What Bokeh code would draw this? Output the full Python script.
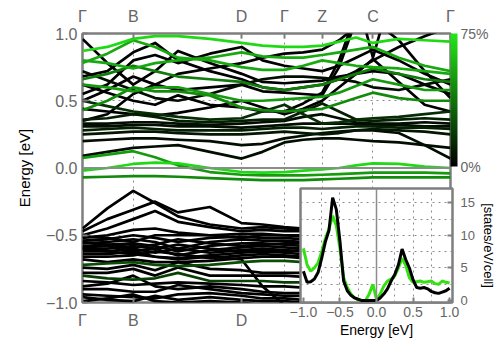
from bokeh.plotting import figure
from bokeh.models import (ColumnDataSource, FixedTicker, LinearColorMapper, ColorBar,
                          Span, LinearAxis, PrintfTickFormatter, CustomJSTickFormatter)
from bokeh.transform import transform
from bokeh.layouts import column
from bokeh.embed import file_html
from bokeh.resources import INLINE

# ---------------- data ----------------
k_path = [0, 25, 51, 73, 96, 128, 160, 181, 203, 222, 241, 258, 275, 292, 318, 344, 370]
k_ticks = [0, 51, 160, 203, 241, 292, 370]
k_labels = ["Γ", "B", "D", "Γ", "Z", "C", "Γ"]
k_bottom_ticks = [0, 51, 160]
k_bottom_labels = ["Γ", "B", "D"]
k_lines = [51, 160, 203, 241, 292]

cond_bands = [
    [-0.02, 0.0, 0.03, 0.04, 0.035, 0.0, -0.03, -0.035, -0.03, -0.02, -0.01, 0.0, 0.02, 0.035, 0.03, 0.01, 0.0],
    [0.075, 0.1, 0.125, 0.08, 0.02, -0.03, -0.05, -0.055, -0.055, -0.055, -0.05, -0.045, -0.04, -0.035, -0.035, -0.035, -0.04],
    [-0.07, -0.065, -0.06, -0.06, -0.065, -0.075, -0.085, -0.09, -0.09, -0.09, -0.085, -0.08, -0.075, -0.07, -0.07, -0.07, -0.07],
    [0.09, 0.12, 0.15, 0.16, 0.17, 0.12, 0.07, 0.12, 0.19, 0.21, 0.22, 0.22, 0.21, 0.2, 0.19, 0.17, 0.15],
    [0.2, 0.21, 0.22, 0.22, 0.21, 0.2, 0.17, 0.18, 0.22, 0.24, 0.26, 0.27, 0.28, 0.28, 0.26, 0.17, 0.07],
    [0.25, 0.26, 0.27, 0.27, 0.26, 0.25, 0.25, 0.26, 0.27, 0.26, 0.25, 0.26, 0.28, 0.29, 0.28, 0.27, 0.25],
    [0.28, 0.29, 0.3, 0.29, 0.28, 0.28, 0.28, 0.29, 0.3, 0.3, 0.29, 0.3, 0.31, 0.31, 0.3, 0.3, 0.29],
    [0.31, 0.31, 0.32, 0.32, 0.31, 0.31, 0.3, 0.31, 0.32, 0.33, 0.33, 0.33, 0.33, 0.32, 0.32, 0.31, 0.31],
    [0.33, 0.33, 0.34, 0.34, 0.33, 0.32, 0.33, 0.34, 0.35, 0.38, 0.4, 0.37, 0.34, 0.33, 0.33, 0.34, 0.33],
    [0.36, 0.37, 0.4, 0.38, 0.35, 0.34, 0.35, 0.36, 0.36, 0.42, 0.48, 0.42, 0.36, 0.35, 0.36, 0.37, 0.36],
    [0.5, 0.46, 0.42, 0.4, 0.38, 0.36, 0.37, 0.42, 0.47, 0.4, 0.33, 0.34, 0.36, 0.37, 0.38, 0.4, 0.42],
    [0.44, 0.42, 0.4, 0.39, 0.41, 0.45, 0.5, 0.45, 0.4, 0.44, 0.5, 0.6, 0.7, 0.81, 0.64, 0.47, 0.42],
    [1.1, 1.1, 1.05, 1.08, 1.1, 1.1, 1.05, 1.04, 1.03, 1.04, 1.06, 1.2, 1.3, 0.82, 1.5, 1.5, 1.5],
    [0.62, 0.56, 0.5, 0.47, 0.54, 0.47, 0.45, 0.42, 0.42, 0.48, 0.56, 0.8, 1.15, 1.3, 1.3, 1.3, 1.3],
    [0.5, 0.58, 0.68, 0.62, 0.58, 0.6, 0.62, 0.57, 0.56, 0.55, 0.54, 0.75, 1.1, 1.3, 1.3, 1.3, 1.3],
    [0.96, 0.78, 0.62, 0.72, 0.87, 0.78, 0.7, 0.64, 0.63, 0.64, 0.65, 0.68, 0.7, 0.72, 0.7, 0.62, 0.55],
    [0.87, 0.9, 0.96, 0.98, 0.98, 0.96, 0.93, 0.91, 0.9, 0.9, 0.91, 0.94, 0.97, 0.93, 0.96, 0.95, 0.94],
    [0.78, 0.85, 0.95, 0.9, 0.82, 0.8, 0.75, 0.73, 0.73, 0.76, 0.8, 0.78, 0.76, 0.75, 0.74, 0.72, 0.7],
    [0.68, 0.72, 0.86, 0.93, 0.8, 0.72, 0.66, 0.6, 0.58, 0.6, 0.62, 0.66, 0.72, 0.8, 0.9, 0.98, 1.05],
    [0.62, 0.6, 0.57, 0.6, 0.6, 0.55, 0.5, 0.5, 0.51, 0.52, 0.53, 0.56, 0.61, 0.66, 0.62, 0.58, 0.58],
    [0.43, 0.5, 0.6, 0.57, 0.57, 0.54, 0.45, 0.43, 0.42, 0.43, 0.44, 0.48, 0.52, 0.56, 0.52, 0.5, 0.5],
    [0.8, 0.78, 0.74, 0.78, 0.8, 0.82, 0.86, 0.83, 0.82, 0.82, 0.84, 0.86, 0.88, 0.9, 0.82, 0.76, 0.72],
    [0.35, 0.4, 0.55, 0.62, 0.7, 0.74, 0.78, 0.82, 0.85, 0.86, 0.88, 0.95, 1.05, 1.1, 0.95, 0.72, 0.52],
    [0.72, 0.65, 0.58, 0.52, 0.5, 0.55, 0.62, 0.66, 0.68, 0.68, 0.67, 0.66, 0.64, 0.6, 0.58, 0.62, 0.66],
    [0.55, 0.62, 0.8, 0.84, 0.78, 0.85, 0.9, 0.8, 0.76, 0.74, 0.72, 0.76, 0.82, 0.88, 0.8, 0.7, 0.62],
    [0.66, 0.7, 0.76, 0.72, 0.68, 0.66, 0.64, 0.6, 0.58, 0.6, 0.62, 0.66, 0.7, 0.74, 0.7, 0.66, 0.64],
]
cond_weights = [70, 50, 45, 5, 5, 8, 10, 5, 5, 10, 15, 0, 0, 0, 0, 0, 70, 55, 0, 50, 45, 55, 0, 5, 0, 40]

val_k = k_path[:10]
val_bands = [
    [-0.45, -0.3, -0.17, -0.26, -0.36, -0.42, -0.45, -0.44, -0.45, -0.46],
    [-0.47, -0.38, -0.31, -0.25, -0.33, -0.29, -0.41, -0.42, -0.44, -0.45],
    [-0.5, -0.45, -0.38, -0.32, -0.4, -0.44, -0.47, -0.46, -0.47, -0.47],
    [-0.52, -0.5, -0.46, -0.45, -0.48, -0.5, -0.49, -0.49, -0.5, -0.5],
    [-0.51, -0.52, -0.55, -0.5, -0.5, -0.5, -0.52, -0.5, -0.5, -0.51],
    [-0.54, -0.53, -0.5, -0.52, -0.55, -0.52, -0.51, -0.52, -0.52, -0.53],
    [-0.55, -0.57, -0.59, -0.57, -0.53, -0.56, -0.58, -0.57, -0.56, -0.56],
    [-0.56, -0.55, -0.53, -0.55, -0.6, -0.55, -0.53, -0.54, -0.54, -0.55],
    [-0.58, -0.57, -0.56, -0.58, -0.62, -0.58, -0.56, -0.56, -0.57, -0.58],
    [-0.59, -0.58, -0.62, -0.6, -0.57, -0.6, -0.62, -0.62, -0.62, -0.61],
    [-0.6, -0.6, -0.58, -0.6, -0.65, -0.61, -0.59, -0.58, -0.59, -0.6],
    [-0.62, -0.62, -0.6, -0.63, -0.6, -0.63, -0.61, -0.6, -0.61, -0.62],
    [-0.64, -0.64, -0.62, -0.66, -0.67, -0.65, -0.63, -0.62, -0.63, -0.64],
    [-0.66, -0.66, -0.65, -0.62, -0.64, -0.67, -0.65, -0.64, -0.65, -0.66],
    [-0.68, -0.7, -0.68, -0.7, -0.7, -0.69, -0.67, -0.66, -0.66, -0.67],
    [-0.72, -0.71, -0.7, -0.72, -0.73, -0.72, -0.7, -0.69, -0.69, -0.7],
    [-0.74, -0.75, -0.72, -0.76, -0.7, -0.75, -0.76, -0.78, -0.78, -0.78],
    [-0.78, -0.78, -0.75, -0.8, -0.74, -0.8, -0.8, -0.8, -0.8, -0.81],
    [-0.8, -0.82, -0.83, -0.82, -0.78, -0.84, -0.84, -0.84, -0.85, -0.85],
    [-0.84, -0.85, -0.87, -0.86, -0.85, -0.86, -0.87, -0.88, -0.88, -0.89],
    [-0.88, -0.86, -0.8, -0.88, -0.9, -0.88, -0.9, -0.92, -0.93, -0.93],
    [-0.9, -0.9, -0.92, -0.92, -0.87, -0.9, -0.93, -0.94, -0.95, -0.95],
    [-0.94, -0.95, -0.96, -0.97, -0.94, -0.93, -0.95, -0.97, -0.97, -0.98],
    [-0.96, -0.98, -0.99, -0.95, -0.98, -0.96, -0.98, -0.99, -0.99, -1.0],
    [-0.99, -0.97, -0.94, -0.99, -1.0, -0.99, -1.0, -1.02, -1.02, -1.02],
    [-0.6, -0.62, -0.64, -0.66, -0.68, -0.66, -0.68, -0.88, -1.02, -1.05],
]
val_weights = [0, 0, 0, 0, 0, 0, 0, 0, 0, 0, 0, 0, 0, 0, 0, 25, 0, 0, 20, 0, 0, 0, 0, 0, 0, 0]

dos_energy = [-1.0, -0.95, -0.9, -0.85, -0.8, -0.75, -0.7, -0.65, -0.6, -0.55, -0.5, -0.45, -0.4,
              -0.35, -0.3, -0.25, -0.2, -0.15, -0.1, -0.05, 0.0, 0.05, 0.1, 0.15, 0.2, 0.25, 0.3,
              0.35, 0.4, 0.45, 0.5, 0.55, 0.6, 0.65, 0.7, 0.75, 0.8, 0.85, 0.9, 0.95, 1.0]
dos_total = [4.5, 2.8, 2.9, 3.3, 4.3, 6.5, 9.0, 10.8, 15.8, 14.0, 9.1, 3.0, 1.5,
             0.8, 0.4, 0.2, 0.0, 0.0, 0.0, 0.0, 0.0, 0.4, 1.0, 1.8, 3.0, 4.0, 5.5,
             7.9, 6.3, 5.0, 3.2, 2.0, 1.9, 2.0, 1.8, 1.4, 1.2, 1.1, 1.3, 1.5, 1.9]
dos_green = [8.0, 5.5, 4.5, 5.0, 5.8, 7.5, 9.5, 11.0, 13.0, 11.5, 8.0, 3.5, 2.0,
             1.0, 0.4, 0.1, 0.0, 0.0, 1.0, 2.5, 0.2, 1.0, 2.2, 3.0, 3.3, 3.8, 5.0,
             6.5, 5.4, 3.5, 2.8, 2.9, 3.0, 2.8, 2.9, 3.0, 2.6, 2.5, 3.0, 2.8, 2.7]

# ---------------- styling helpers ----------------
GRAY = "#7f7f7f"
LABEL_GRAY = "#666666"
FONT = "Liberation Sans"
palette = []
for i in range(128):
    t = i / 127
    palette.append("#%02x%02x%02x" % (int(34 * t), int(232 * t), int(22 * t)))
mapper = LinearColorMapper(palette=palette, low=0, high=75)

def style_axis(ax, size="16px"):
    ax.axis_line_color = None
    ax.major_tick_in = 5
    ax.major_tick_out = 0
    ax.minor_tick_line_color = None
    ax.major_tick_line_color = GRAY
    ax.major_tick_line_width = 2
    ax.major_label_text_color = LABEL_GRAY
    ax.major_label_text_font = FONT
    ax.major_label_text_font_size = size
    ax.axis_label_text_font = FONT
    ax.axis_label_text_font_style = "normal"
    ax.axis_label_text_color = "black"

fmt_code = "return (tick < 0 ? '\u2212' : '') + Math.abs(tick).toFixed(1);"

# ---------------- main band-structure figure ----------------
p = figure(width=496, height=341, x_range=(0, 370), y_range=(-1, 1),
           output_backend="svg", toolbar_location=None,
           min_border_left=82, min_border_right=44, min_border_top=33, min_border_bottom=39)
p.outline_line_color = GRAY
p.outline_line_width = 2.5
p.background_fill_color = "white"

p.xaxis.ticker = FixedTicker(ticks=k_bottom_ticks)
p.xaxis.major_label_overrides = dict(zip(k_bottom_ticks, k_bottom_labels))
style_axis(p.xaxis[0])
p.xaxis.major_label_standoff = 9

top = LinearAxis(ticker=FixedTicker(ticks=k_ticks),
                 major_label_overrides=dict(zip(k_ticks, k_labels)))
style_axis(top)
top.major_label_standoff = 9
p.add_layout(top, "above")

p.yaxis.ticker = FixedTicker(ticks=[-1.0, -0.5, 0.0, 0.5, 1.0])
p.yaxis.formatter = CustomJSTickFormatter(code=fmt_code)
p.yaxis.axis_label = "Energy [eV]"
style_axis(p.yaxis[0])
p.yaxis.axis_label_text_font_size = "15px"
p.yaxis.major_label_standoff = 5
p.yaxis.axis_label_standoff = 10

p.xgrid.ticker = FixedTicker(ticks=k_lines)
p.ygrid.ticker = FixedTicker(ticks=[-0.5, 0.5])
for g in (p.xgrid[0], p.ygrid[0]):
    g.grid_line_color = "#8c8c8c"
    g.grid_line_dash = "2 4"
    g.grid_line_width = 1

p.add_layout(Span(location=0, dimension="width", line_color="#8c8c8c", line_width=2))

# draw black bands first, green ones on top
order_v = sorted(range(len(val_bands)), key=lambda i: val_weights[i])
src_v = ColumnDataSource(dict(xs=[val_k for _ in order_v],
                              ys=[val_bands[i] for i in order_v],
                              w=[val_weights[i] for i in order_v]))
p.multi_line(xs="xs", ys="ys", source=src_v, line_color=transform("w", mapper),
             line_width=2.7, line_join="round")

order_c = sorted(range(len(cond_bands)), key=lambda i: cond_weights[i])
src_c = ColumnDataSource(dict(xs=[k_path for _ in order_c],
                              ys=[cond_bands[i] for i in order_c],
                              w=[cond_weights[i] for i in order_c]))
p.multi_line(xs="xs", ys="ys", source=src_c, line_color=transform("w", mapper),
             line_width=2.7, line_join="round")

cb = ColorBar(color_mapper=mapper, ticker=FixedTicker(ticks=[0, 75]),
              formatter=PrintfTickFormatter(format="%d%%"),
              width=7, height=133, location="top_left", padding=0, margin=1,
              label_standoff=3, major_tick_line_color=None, bar_line_color=None,
              major_label_text_font=FONT, major_label_text_font_size="14px",
              major_label_text_color=LABEL_GRAY, background_fill_alpha=0)
p.add_layout(cb, "right")

# ---------------- DOS inset ----------------
q = figure(frame_width=152, frame_height=114, x_range=(-1.04, 1.04), y_range=(-0.3, 17.2),
           y_axis_location="right", output_backend="svg", toolbar_location=None,
           min_border_left=82, min_border_top=2, min_border_right=44, min_border_bottom=0)
q.margin = (-155, 0, 0, 218)
q.border_fill_alpha = 0
q.background_fill_color = "white"
q.outline_line_color = GRAY
q.outline_line_width = 2.5

q.xaxis.ticker = FixedTicker(ticks=[-1.0, -0.5, 0.0, 0.5, 1.0])
q.xaxis.formatter = CustomJSTickFormatter(code=fmt_code)
q.xaxis.axis_label = "Energy [eV]"
style_axis(q.xaxis[0], "14px")
q.xaxis.axis_label_text_font_size = "14px"
q.xaxis.major_label_standoff = 4
q.xaxis.axis_label_standoff = 2

q.yaxis.ticker = FixedTicker(ticks=[0, 5, 10, 15])
q.yaxis.axis_label = "[states/eV/cell]"
style_axis(q.yaxis[0], "13px")
q.yaxis.axis_label_text_font_size = "13px"
q.yaxis.major_label_standoff = 8
q.yaxis.axis_label_standoff = 3

q.xgrid.ticker = FixedTicker(ticks=[-0.75, -0.5, -0.25, 0.25, 0.5, 0.75])
q.ygrid.ticker = FixedTicker(ticks=[2.5, 5, 7.5, 10, 12.5, 15])
for g in (q.xgrid[0], q.ygrid[0]):
    g.grid_line_color = "#8c8c8c"
    g.grid_line_dash = "2 4"
q.add_layout(Span(location=0, dimension="height", line_color="#8c8c8c", line_width=1.5))

q.line(dos_energy, dos_green, line_color="#33e010", line_width=3)
q.line(dos_energy, dos_total, line_color="black", line_width=3)

layout = column(p, q)
open("out.html", "w").write(file_html(layout, INLINE))
